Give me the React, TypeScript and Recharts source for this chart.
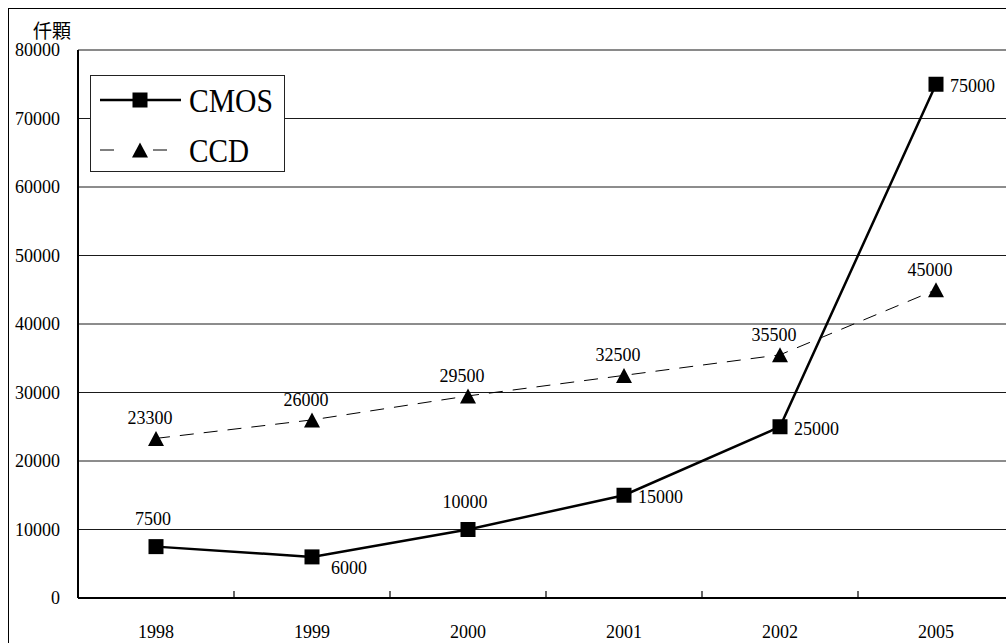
import React from 'react';
import {
  LineChart,
  Line,
  XAxis,
  YAxis,
  CartesianGrid,
  ReferenceLine,
  LabelList,
  Legend,
} from 'recharts';

// Annual shipments (thousand units) of image sensors
const years = ['1998', '1999', '2000', '2001', '2002', '2005'];
const cmosValues = [7500, 6000, 10000, 15000, 25000, 75000];
const ccdValues = [23300, 26000, 29500, 32500, 35500, 45000];
const yTicks = [0, 10000, 20000, 30000, 40000, 50000, 60000, 70000, 80000];
const unitLabel = '仟顆';

const data = years.map((year, i) => ({ year, cmos: cmosValues[i], ccd: ccdValues[i] }));

// Layout
const CHART_W = 1010;
const CHART_H = 634;
const MARGIN = { top: 41, right: 5, bottom: 0, left: 0 };
const Y_AXIS_W = 69;
const X_AXIS_H = 45;
const BAND = (CHART_W - MARGIN.right - MARGIN.left - Y_AXIS_W) / years.length;

const SERIF = '"Liberation Serif", "Times New Roman", serif';
const NUM_SIZE = 18;
const serifStyle = { fontFamily: SERIF };

// Where each CMOS value label sits relative to its marker
const cmosLabelPlacement = ['top', 'belowRight', 'top', 'right', 'right', 'right'];

const SquareDot = (props: any) => {
  const { cx, cy, index } = props;
  if (cx == null || cy == null) return null;
  const s = 15;
  return <rect key={`sq-${index}`} x={cx - s / 2} y={cy - s / 2} width={s} height={s} fill="#000" />;
};

const TriangleDot = (props: any) => {
  const { cx, cy, index } = props;
  if (cx == null || cy == null) return null;
  const w = 16;
  const h = 15;
  return (
    <path
      key={`tri-${index}`}
      d={`M${cx},${cy - h / 2} L${cx + w / 2},${cy + h / 2} L${cx - w / 2},${cy + h / 2} Z`}
      fill="#000"
    />
  );
};

const CmosLabel = (props: any) => {
  const { x, y, value, index } = props;
  const place = cmosLabelPlacement[index];
  let tx = x;
  let ty = y;
  let anchor: 'start' | 'middle' = 'middle';
  if (place === 'top') {
    tx = x - 3;
    ty = y - 28;
  } else if (place === 'belowRight') {
    tx = x + 19;
    ty = y + 11;
    anchor = 'start';
  } else {
    tx = x + 14;
    ty = y + 2;
    anchor = 'start';
  }
  return (
    <text
      x={tx}
      y={ty}
      textAnchor={anchor}
      dominantBaseline="central"
      style={serifStyle}
      fontSize={NUM_SIZE}
      fill="#000"
    >
      {value}
    </text>
  );
};

const CcdLabel = (props: any) => {
  const { x, y, value } = props;
  return (
    <text
      x={x - 6}
      y={y - 20}
      textAnchor="middle"
      dominantBaseline="central"
      style={serifStyle}
      fontSize={NUM_SIZE}
      fill="#000"
    >
      {value}
    </text>
  );
};

// Category labels plus the small separator ticks between categories
const YearTick = (props: any) => {
  const { x, y, payload, index } = props;
  return (
    <g>
      {index > 0 && (
        <line x1={x - BAND / 2} x2={x - BAND / 2} y1={y} y2={y - 7} stroke="#000" strokeWidth={1.2} />
      )}
      <text
        x={x}
        y={y + 34}
        textAnchor="middle"
        dominantBaseline="central"
        style={serifStyle}
        fontSize={NUM_SIZE}
        fill="#000"
      >
        {payload.value}
      </text>
    </g>
  );
};

const LegendBox = () => (
  <svg width={195} height={97} style={{ display: 'block' }}>
    <rect x={0.5} y={0.5} width={194} height={96} fill="#fff" stroke="#222" strokeWidth={1} />
    <line x1={10} x2={91} y1={25} y2={25} stroke="#000" strokeWidth={2.5} />
    <rect x={50 - 7.5} y={25 - 7.5} width={15} height={15} fill="#000" />
    <text
      x={99}
      y={25}
      dominantBaseline="central"
      style={serifStyle}
      fontSize={34}
      textLength={84}
      lengthAdjust="spacingAndGlyphs"
      fill="#000"
    >
      CMOS
    </text>
    <line x1={10} x2={91} y1={75} y2={75} stroke="#000" strokeWidth={1} strokeDasharray="14 14 0 25 14" />
    <path d={`M50,${75 - 7.5} L58,${75 + 7.5} L42,${75 + 7.5} Z`} fill="#000" />
    <text
      x={99}
      y={75}
      dominantBaseline="central"
      style={serifStyle}
      fontSize={34}
      textLength={60}
      lengthAdjust="spacingAndGlyphs"
      fill="#000"
    >
      CCD
    </text>
  </svg>
);

export default function App() {
  return (
    <div
      style={{
        position: 'fixed',
        left: 8,
        top: 8,
        width: 998,
        height: 635,
        boxSizing: 'border-box',
        borderTop: '1px solid #000',
        borderLeft: '1px solid #000',
        overflow: 'hidden',
        background: '#fff',
      }}
    >
      <div
        style={{
          position: 'absolute',
          left: 24,
          top: 11,
          fontFamily: '"Noto Sans CJK TC", "Noto Sans CJK SC", sans-serif',
          fontSize: 19,
          lineHeight: '19px',
          color: '#000',
          zIndex: 2,
        }}
      >
        {unitLabel}
      </div>
      <LineChart width={CHART_W} height={CHART_H} data={data} margin={MARGIN}>
        <CartesianGrid horizontal vertical={false} stroke="#1a1a1a" strokeWidth={1} />
        <ReferenceLine y={80000} stroke="#8a8a8a" strokeWidth={2} />
        <XAxis
          dataKey="year"
          scale="band"
          height={X_AXIS_H}
          axisLine={{ stroke: '#000', strokeWidth: 2 }}
          tickLine={false}
          tickSize={0}
          tickMargin={0}
          tick={<YearTick />}
          interval={0}
        />
        <YAxis
          width={Y_AXIS_W}
          domain={[0, 80000]}
          ticks={yTicks}
          interval={0}
          axisLine={{ stroke: '#000', strokeWidth: 2 }}
          tickLine={false}
          tickSize={8}
          tickMargin={10}
          tick={{ style: serifStyle, fontSize: NUM_SIZE, fill: '#000' }}
        />
        <Legend
          layout="horizontal"
          align="center"
          verticalAlign="middle"
          content={<LegendBox />}
          wrapperStyle={{ position: 'absolute', left: 81, top: 66, width: 195, height: 97 }}
        />
        <Line
          type="linear"
          dataKey="ccd"
          name="CCD"
          stroke="#000"
          strokeWidth={1}
          strokeDasharray="14 10"
          dot={<TriangleDot />}
          activeDot={false}
          isAnimationActive={false}
        >
          <LabelList dataKey="ccd" content={<CcdLabel />} />
        </Line>
        <Line
          type="linear"
          dataKey="cmos"
          name="CMOS"
          stroke="#000"
          strokeWidth={2.5}
          dot={<SquareDot />}
          activeDot={false}
          isAnimationActive={false}
        >
          <LabelList dataKey="cmos" content={<CmosLabel />} />
        </Line>
      </LineChart>
    </div>
  );
}
